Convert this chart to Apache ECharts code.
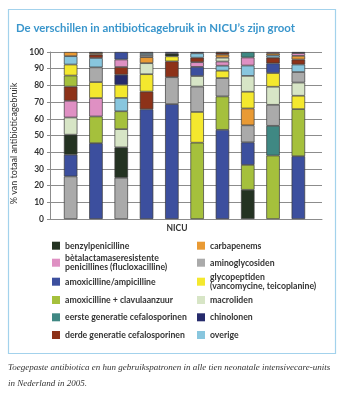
<!DOCTYPE html>
<html>
<head>
<meta charset="utf-8">
<script src="https://cdn.jsdelivr.net/npm/echarts@6/dist/echarts.min.js"></script>
<style>
  html, body { margin: 0; padding: 0; background: #fff; }
  #chart { width: 344px; height: 400px; }
</style>
</head>
<body>
<div id="chart"></div>
<script>
// NICU 1..10 (share of total antibiotic use, %)
const nicuUnits = ['1', '2', '3', '4', '5', '6', '7', '8', '9', '10'];

const benzylpenicilline   = [12.0,  0.0, 18.2,  0.0,  1.6,  0.0,  0.0, 17.5,  0.0,  0.0];
const betalactamase       = [10.0, 11.0,  4.5,  0.6,  0.0,  2.8,  2.5,  4.8,  0.8,  1.6];
const amoxAmpicilline     = [13.0, 45.4,  4.5, 65.7, 68.8,  5.5, 53.4, 13.5,  5.8, 37.6];
const amoxClavulaanzuur   = [ 6.6, 16.0, 10.7,  0.0,  0.0, 45.7, 20.0, 14.9, 38.0, 28.2];
const eersteGeneratie     = [ 0.0,  0.0,  0.0,  0.0,  0.0,  0.0,  0.0,  3.3, 17.8,  0.0];
const derdeGeneratie      = [ 8.5,  2.0,  4.6, 10.6,  9.5,  2.7,  1.2,  0.0,  3.4,  3.0];
const carbapenems         = [ 2.5,  1.0,  0.0,  3.6,  0.0,  0.0,  1.8, 10.1,  1.2,  2.2];
const aminoglycosiden     = [25.5,  8.8, 24.7,  1.3, 16.1, 15.2, 11.0, 10.2, 12.6,  6.3];
const glycopeptiden       = [ 6.6,  9.6,  7.9, 10.4,  3.0, 18.4,  4.4, 10.0,  8.2,  8.0];
const macroliden          = [10.3,  0.0, 10.9,  6.6,  0.0,  6.3,  2.3,  9.5, 10.8,  7.9];
const chinolonen          = [ 0.0,  0.6,  6.0,  0.0,  1.0,  0.8,  0.4,  0.0,  0.0,  0.7];
const overige             = [ 5.0,  5.6,  8.0,  1.2,  0.0,  2.6,  3.0,  6.2,  1.4,  4.5];

const yMin = 0, yMax = 100, yStep = 10;

// antibiotic classes: left legend column first, then right column
const classes = [
  { name: 'benzylpenicilline', values: benzylpenicilline, color: '#243322' },
  { name: 'bètalactamaseresistente\npenicillines (flucloxacilline)', values: betalactamase, color: '#df90c3' },
  { name: 'amoxicilline/ampicilline', values: amoxAmpicilline, color: '#3c4f9e' },
  { name: 'amoxicilline + clavulaanzuur', values: amoxClavulaanzuur, color: '#a5c03c' },
  { name: 'eerste generatie cefalosporinen', values: eersteGeneratie, color: '#3f8883' },
  { name: 'derde generatie cefalosporinen', values: derdeGeneratie, color: '#8d3219' },
  { name: 'carbapenems', values: carbapenems, color: '#e99a34' },
  { name: 'aminoglycosiden', values: aminoglycosiden, color: '#aaaaaa' },
  { name: 'glycopeptiden\n(vancomycine, teicoplanine)', values: glycopeptiden, color: '#f4e82e' },
  { name: 'macroliden', values: macroliden, color: '#d7e5c6' },
  { name: 'chinolonen', values: chinolonen, color: '#262b6c' },
  { name: 'overige', values: overige, color: '#88c6de' }
];

// each NICU stacks its classes from largest (bottom) to smallest (top)
const orderPerUnit = nicuUnits.map((u, i) =>
  classes.slice().sort((a, b) => b.values[i] - a.values[i])
);

const stackSeries = classes.map((_, rank) => ({
  type: 'bar',
  stack: 'nicu',
  xAxisIndex: 1,
  yAxisIndex: 1,
  barWidth: 13.5,
  silent: true,
  itemStyle: { borderColor: '#3a3a3a', borderWidth: 0.7 },
  data: nicuUnits.map((u, i) => {
    const c = orderPerUnit[i][rank];
    const v = c.values[i];
    return v > 0 ? { value: v, itemStyle: { color: c.color } } : '-';
  })
}));

// legend entries (no data of their own)
const legendSeries = classes.map(c => ({
  type: 'bar',
  name: c.name,
  stack: 'legend',
  xAxisIndex: 0,
  yAxisIndex: 0,
  data: [],
  itemStyle: { color: c.color }
}));

const legendFont = { fontFamily: 'Lato', fontSize: 8.7, fontWeight: 'bold', color: '#333', lineHeight: 9.5 };
const rowCenters = [245.7, 262.7, 281.7, 300, 317.3, 335];
const columnLeft = [52, 197];
const legends = classes.map((c, k) => {
  const col = k < 6 ? 0 : 1;
  const row = k % 6;
  const lines = c.name.split('\n').length;
  return {
    data: [c.name],
    left: columnLeft[col],
    top: rowCenters[row] - lines * legendFont.lineHeight / 2,
    padding: 0,
    itemWidth: 8,
    itemHeight: 8,
    icon: 'rect',
    selectedMode: false,
    textStyle: legendFont
  };
});

const axisGrey = '#8c8c8c';

const chart = echarts.init(document.getElementById('chart'), null, { renderer: 'canvas' });
chart.setOption({
  animation: false,
  backgroundColor: '#fff',
  title: {
    text: 'De verschillen in antibioticagebruik in NICU\u2019s zijn groot',
    left: 16,
    top: 22.5,
    padding: 0,
    textStyle: { fontFamily: 'Lato', fontSize: 11.4, fontWeight: 'bold', color: '#3a96cc' }
  },
  legend: legends,
  grid: [
    { left: 50, right: 22, top: 52, bottom: 181 },
    { left: 58, right: 33, top: 52, bottom: 181 }
  ],
  xAxis: [
    {
      type: 'category', gridIndex: 0, data: nicuUnits,
      axisLabel: { show: false }, axisTick: { show: false },
      axisLine: { lineStyle: { color: axisGrey, width: 1 } },
      name: 'NICU', nameLocation: 'middle', nameGap: 5,
      nameTextStyle: { fontFamily: 'Lato', fontSize: 8.5, fontWeight: 'bold', color: '#333', verticalAlign: 'top', padding: [0, 18, 0, 0] }
    },
    {
      type: 'category', gridIndex: 1, data: nicuUnits,
      axisLabel: { show: false }, axisTick: { show: false }, axisLine: { show: false }
    }
  ],
  yAxis: [
    {
      type: 'value', gridIndex: 0, min: yMin, max: yMax, interval: yStep,
      axisLine: { show: true, lineStyle: { color: axisGrey, width: 1 } },
      axisTick: { show: true, length: 3, lineStyle: { color: axisGrey } },
      axisLabel: { fontFamily: 'Lato', fontSize: 8.5, fontWeight: 'bold', color: '#333', margin: 6 },
      splitLine: { lineStyle: { color: axisGrey, width: 1 } },
      name: '% van totaal antibioticagebruik', nameLocation: 'middle', nameGap: 21, nameRotate: 90,
      nameTextStyle: { fontFamily: 'Lato', fontSize: 9, color: '#333', padding: [0, 16, 0, 0] }
    },
    {
      type: 'value', gridIndex: 1, min: yMin, max: yMax, show: false
    }
  ],
  series: legendSeries.concat(stackSeries),
  graphic: [
    {
      type: 'rect', silent: true, z: -1,
      shape: { x: 8.5, y: 9.5, width: 327, height: 344 },
      style: { fill: 'none', stroke: '#a3d2ec', lineWidth: 1.2 }
    },
    {
      type: 'text', left: 8, top: 360, silent: true,
      style: {
        text: 'Toegepaste antibiotica en hun gebruikspatronen in alle tien neonatale intensivecare-units\nin Nederland in 2005.',
        font: 'italic 9px "Liberation Serif"', fill: '#333', lineHeight: 15.5
      }
    }
  ]
});
</script>
</body>
</html>
